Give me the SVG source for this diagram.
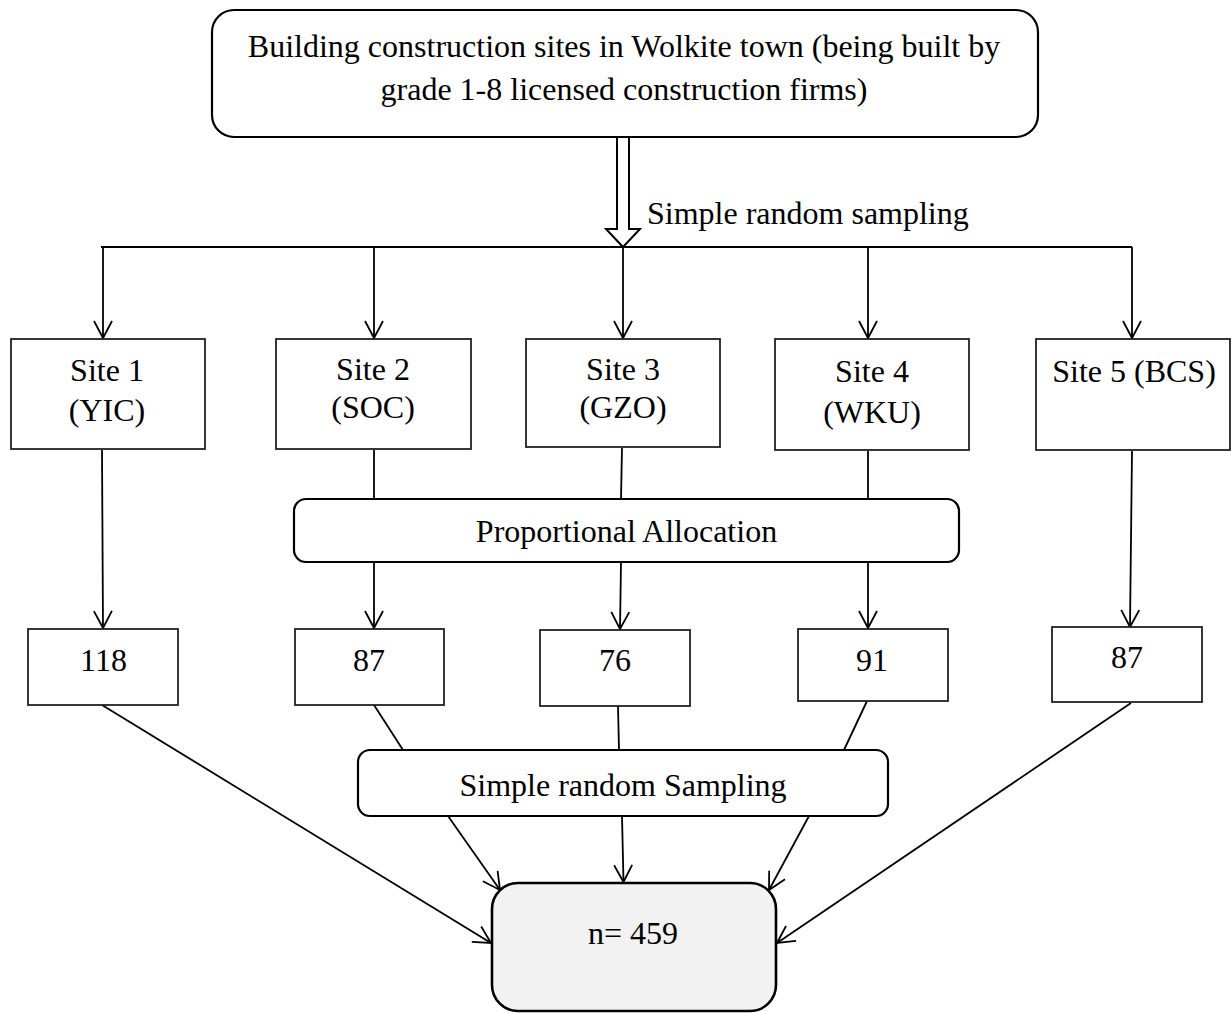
<svg xmlns="http://www.w3.org/2000/svg" width="1231" height="1013" viewBox="0 0 1231 1013">
<style>
text{font-family:"Liberation Serif","Times New Roman",serif;font-size:32px;fill:#000;text-anchor:middle}
.box{fill:#fff;stroke:#222;stroke-width:1.8}
.rbox{fill:#fff;stroke:#000;stroke-width:2.2}
.ln{fill:none;stroke:#000;stroke-width:1.8}
</style>
<defs>
<marker id="ah" markerUnits="userSpaceOnUse" markerWidth="40" markerHeight="40" viewBox="-20 -20 40 40" refX="0" refY="0" orient="auto" overflow="visible">
<path d="M-17,-9 L0,0 L-17,9" fill="none" stroke="#000" stroke-width="1.8"/>
</marker>
</defs>
<g id="connectors">
<polygon points="617,137 629,137 629,229 640,229 623,247 606,229 617,229" fill="#fff" stroke="#000" stroke-width="2"/>
<path class="ln" d="M101,247 H1132" stroke-width="2.2"/>
<path class="ln" d="M103,247 V338" marker-end="url(#ah)"/>
<path class="ln" d="M374,247 V338" marker-end="url(#ah)"/>
<path class="ln" d="M623,247 V338" marker-end="url(#ah)"/>
<path class="ln" d="M868,247 V338" marker-end="url(#ah)"/>
<path class="ln" d="M1132,247 V338" marker-end="url(#ah)"/>
<path class="ln" d="M374,450 V499"/>
<path class="ln" d="M622,448 L621,499"/>
<path class="ln" d="M868,451 V499"/>
<path class="ln" d="M102,450 L103,628" marker-end="url(#ah)"/>
<path class="ln" d="M1132,451 L1130,627" marker-end="url(#ah)"/>
<path class="ln" d="M374,562 V628" marker-end="url(#ah)"/>
<path class="ln" d="M621,562 L620,629" marker-end="url(#ah)"/>
<path class="ln" d="M868,562 V628" marker-end="url(#ah)"/>
<path class="ln" d="M374,705 L403,750"/>
<path class="ln" d="M618,706 L619,750"/>
<path class="ln" d="M867,701 L844,750"/>
<path class="ln" d="M102,705 L491,943" marker-end="url(#ah)"/>
<path class="ln" d="M1131,703 L777,943" marker-end="url(#ah)"/>
<path class="ln" d="M448,816 L500,890" marker-end="url(#ah)"/>
<path class="ln" d="M622,816 L623.5,882" marker-end="url(#ah)"/>
<path class="ln" d="M809,816 L769,890" marker-end="url(#ah)"/>
</g>
<g id="top">
<rect x="212" y="10" width="826" height="127" rx="22" class="rbox" stroke-width="2.6"/>
<text x="624" y="57">Building construction sites in Wolkite town (being built by</text>
<text x="624" y="100">grade 1-8 licensed construction firms)</text>
</g>
<g id="label-srs">
<text x="647" y="224" style="text-anchor:start">Simple random sampling</text>
</g>
<g id="site1"><rect x="11" y="339" width="194" height="110" class="box"/><text x="107" y="381">Site 1</text><text x="107" y="421">(YIC)</text></g>
<g id="site2"><rect x="276" y="339" width="195" height="110" class="box"/><text x="373" y="380">Site 2</text><text x="373" y="418">(SOC)</text></g>
<g id="site3"><rect x="526" y="339" width="194" height="108" class="box"/><text x="623" y="380">Site 3</text><text x="623" y="418">(GZO)</text></g>
<g id="site4"><rect x="775" y="339" width="194" height="111" class="box"/><text x="872" y="382">Site 4</text><text x="872" y="423">(WKU)</text></g>
<g id="site5"><rect x="1036" y="339" width="194" height="111" class="box"/><text x="1134" y="382">Site 5 (BCS)</text></g>
<g id="proportional"><rect x="294" y="499" width="665" height="63" rx="12" class="rbox"/><text x="626.5" y="542">Proportional Allocation</text></g>
<g id="n118"><rect x="28" y="629" width="150" height="76" class="box"/><text x="103.5" y="671">118</text></g>
<g id="n87a"><rect x="295" y="629" width="149" height="76" class="box"/><text x="369" y="671">87</text></g>
<g id="n76"><rect x="540" y="630" width="150" height="76" class="box"/><text x="615" y="671">76</text></g>
<g id="n91"><rect x="798" y="629" width="150" height="72" class="box"/><text x="872" y="671">91</text></g>
<g id="n87b"><rect x="1052" y="627" width="150" height="75" class="box"/><text x="1127" y="668">87</text></g>
<g id="sampling"><rect x="358" y="750" width="530" height="66" rx="12" class="rbox"/><text x="623" y="796">Simple random Sampling</text></g>
<g id="total"><rect x="492" y="883" width="284" height="128" rx="26" fill="#f2f2f2" stroke="#000" stroke-width="2.6"/><text x="633" y="944">n= 459</text></g>
</svg>
